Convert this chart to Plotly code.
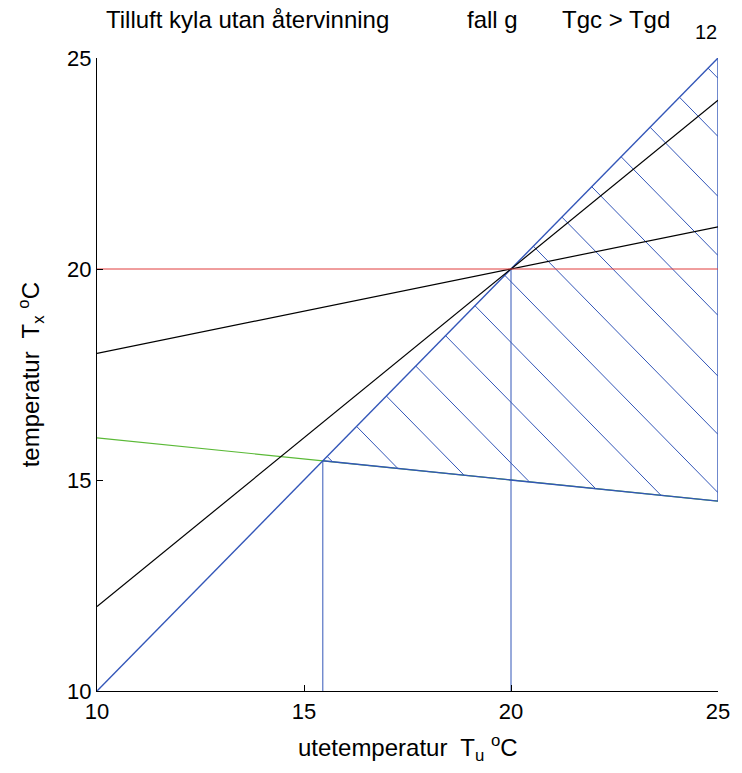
import numpy as np
import plotly.graph_objects as go

# ---- data ----
x_ends = [10, 25]                 # outdoor temperature range Tu
diag_y = [10, 25]                 # Tx = Tu (blue)
black_steep_y = [12, 24]          # black line 1
black_flat_y = [18, 21]           # black line 2
green_y = [16, 14.5]              # green supply line
ref_y = [20, 20]                  # red reference line at 20 °C
x_mid = 20                        # blue vertical at Tu = 20
hatch_start_x = [15.56, 16.27, 16.99, 17.70, 18.42, 19.13, 19.85,
                 20.54, 21.23, 21.95, 22.66, 23.36, 24.07, 24.76]

title_parts = ["Tilluft kyla utan återvinning", "fall g", "Tgc > Tgd"]
fig_number = "12"
tick_vals = [10, 15, 20, 25]

BLUE = "#3356b8"
GREEN = "#5ab936"
RED = "#e03c3c"
BLACK = "#000000"

# green line equation
g_slope = (green_y[1] - green_y[0]) / (x_ends[1] - x_ends[0])
g_int = green_y[0] - g_slope * x_ends[0]
# intersection of green line with diagonal
xi = g_int / (1 - g_slope)

fig = go.Figure()

def add_line(xs, ys, color, width=1.2):
    fig.add_trace(go.Scatter(x=xs, y=ys, mode="lines",
                             line=dict(color=color, width=width),
                             showlegend=False, hoverinfo="skip"))

# green line
add_line(x_ends, green_y, GREEN)

# hatch lines (slope -1 from the diagonal down to bottom / right boundary)
hx, hy = [], []
for x0 in hatch_start_x:
    c = 2 * x0
    xe = (c - g_int) / (1 + g_slope)
    if xe > x_ends[1]:
        xe = x_ends[1]
    ye = c - xe
    hx += [x0, xe, None]
    hy += [x0, ye, None]
add_line(hx, hy, BLUE, 1.0)

# blue boundaries
add_line(x_ends, diag_y, BLUE, 1.4)
add_line([xi, x_ends[1]], [g_slope * xi + g_int, green_y[1]], BLUE, 1.4)
add_line([x_ends[1], x_ends[1]], [green_y[1], diag_y[1]], BLUE, 1.4)
add_line([xi, xi], [diag_y[0], xi], BLUE, 1.0)
add_line([x_mid, x_mid], [diag_y[0], x_mid], BLUE, 1.0)

# black lines
add_line(x_ends, black_steep_y, BLACK)
add_line(x_ends, black_flat_y, BLACK)

# red reference line
add_line(x_ends, ref_y, RED, 1.0)

FONT = "Liberation Sans, Arial, sans-serif"
axis_common = dict(
    showgrid=False, zeroline=False, showline=True, linecolor="black",
    linewidth=1.2, ticks="inside", ticklen=6, tickcolor="black",
    tickvals=tick_vals, tickfont=dict(size=22, color="black", family=FONT),
    mirror=False,
)

fig.update_layout(
    width=742, height=773,
    margin=dict(l=97, r=16, t=58, b=82),
    paper_bgcolor="white", plot_bgcolor="white",
    font=dict(family=FONT, color="black"),
    xaxis=dict(range=[10, 25], **axis_common),
    yaxis=dict(range=[10, 25], **axis_common),
    showlegend=False,
)

W = 742 - 97 - 16
H = 773 - 58 - 82

def px2paper_x(px):
    return (px - 97) / W

def px2paper_y(py):
    return 1 - (py - 58) / H

ann = []
for txt, px in zip(title_parts, [104, 470, 566]):
    ann.append(dict(text=txt, x=px2paper_x(px), y=px2paper_y(20),
                    xref="paper", yref="paper", xanchor="left", yanchor="middle",
                    showarrow=False, font=dict(size=24, family=FONT, color="black")))
ann.append(dict(text=fig_number, x=px2paper_x(714), y=px2paper_y(32),
                xref="paper", yref="paper", xanchor="center", yanchor="middle",
                showarrow=False, font=dict(size=20, family=FONT, color="black")))
ann.append(dict(text="utetemperatur  T<sub>u</sub> <sup>o</sup>C",
                x=0.5, y=px2paper_y(748), xref="paper", yref="paper",
                xanchor="center", yanchor="middle", showarrow=False,
                font=dict(size=24, family=FONT, color="black")))
ann.append(dict(text="temperatur  T<sub>x</sub> <sup>o</sup>C",
                x=px2paper_x(30), y=0.5, xref="paper", yref="paper",
                xanchor="center", yanchor="middle", textangle=-90, showarrow=False,
                font=dict(size=24, family=FONT, color="black")))
fig.update_layout(annotations=ann)

fig.write_html("out.html",
               config={"displayModeBar": False, "staticPlot": True},
               post_script="document.body.style.margin='0';document.body.style.overflow='hidden';")
